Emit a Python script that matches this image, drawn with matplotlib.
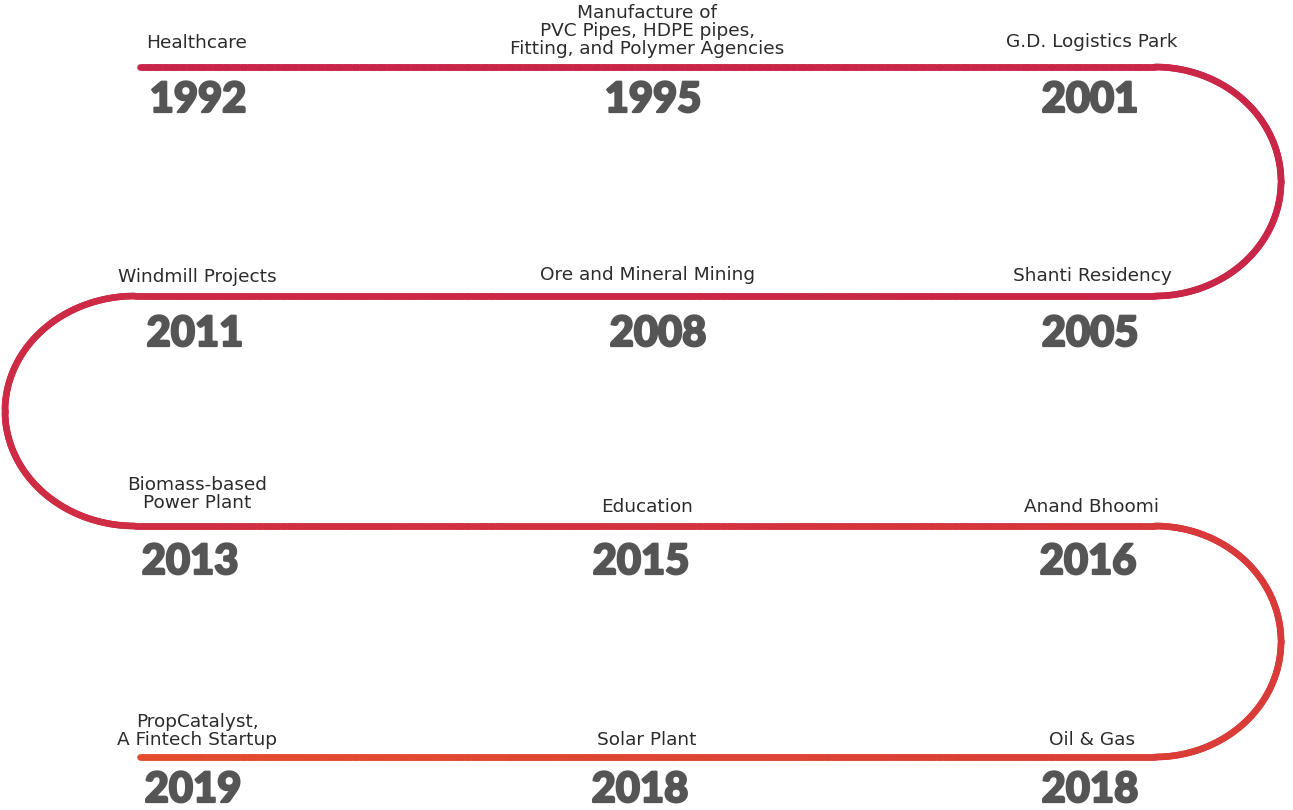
import numpy as np
import matplotlib
matplotlib.use('Agg')
import matplotlib.pyplot as plt
import matplotlib.patheffects as pe
from matplotlib.collections import LineCollection
from matplotlib.colors import LinearSegmentedColormap

# milestones in timeline order (serpentine: row 0 L->R, row 1 R->L, ...)
YEARS = ["1992", "1995", "2001",
         "2005", "2008", "2011",
         "2013", "2015", "2016",
         "2018", "2018", "2019"]
LABELS = ["Healthcare",
          "Manufacture of\nPVC Pipes, HDPE pipes,\nFitting, and Polymer Agencies",
          "G.D. Logistics Park",
          "Shanti Residency",
          "Ore and Mineral Mining",
          "Windmill Projects",
          "Biomass-based\nPower Plant",
          "Education",
          "Anand Bhoomi",
          "Oil & Gas",
          "Solar Plant",
          "PropCatalyst,\nA Fintech Startup"]

# layout (pixels)
W, H = 1293, 810
COL_X = [197, 647, 1092]
ROW_Y = [67, 296, 526, 757]
YEAR_Y = [100, 334, 562, 790]
LABEL_Y = [43, 31, 42, 276, 275, 277, 494, 507, 507, 740, 740, 731]
YEAR_DX = [1, 6, -2, -2, 11, -2, -7, -6, -4, -2, -7, -4]
X_LEFT, X_RIGHT, X_LARC = 140, 1155, 135


def half_ellipse(cx, y0, y1, rx, side, n=200):
    cy = (y0 + y1) / 2
    ry = (y1 - y0) / 2
    th = np.linspace(-np.pi / 2, np.pi / 2, n)
    return cx + side * rx * np.cos(th), cy + ry * np.sin(th)


def build_path():
    xs, ys = [], []
    ends = [(X_LEFT, X_RIGHT), (X_RIGHT, X_LARC), (X_LARC, X_RIGHT), (X_RIGHT, X_LEFT)]
    for r, (a, b) in enumerate(ends):
        seg_x = np.linspace(a, b, 300)
        xs.append(seg_x)
        ys.append(np.full_like(seg_x, ROW_Y[r]))
        if r < 3:
            if r % 2 == 0:
                ex, ey = half_ellipse(X_RIGHT, ROW_Y[r], ROW_Y[r + 1], 126, 1)
            else:
                ex, ey = half_ellipse(X_LARC, ROW_Y[r], ROW_Y[r + 1], 130, -1)
            xs.append(ex)
            ys.append(ey)
    return np.concatenate(xs), np.concatenate(ys)


fig = plt.figure(figsize=(W / 100, H / 100), dpi=100)
ax = fig.add_axes([0, 0, 1, 1])
ax.set_xlim(0, W)
ax.set_ylim(H, 0)
ax.axis('off')

px, py = build_path()
pts = np.column_stack([px, py]).reshape(-1, 1, 2)
segs = np.concatenate([pts[:-1], pts[1:]], axis=1)
d = np.hypot(np.diff(px), np.diff(py))
t = np.concatenate([[0], np.cumsum(d)])[:-1] / d.sum()
cmap = LinearSegmentedColormap.from_list(
    'tl', [(0, '#C9244A'), (0.45, '#CB2946'), (0.7, '#D6353C'), (1, '#E34D2E')])
lc = LineCollection(segs, colors=cmap(t), linewidths=4.8, capstyle='round')
ax.add_collection(lc)

label_font = ['DejaVu Sans']
year_font = ['Lato', 'DejaVu Sans']
thick = [pe.withStroke(linewidth=1.6, foreground='#555555')]
for i, (yr, lab) in enumerate(zip(YEARS, LABELS)):
    r, k = divmod(i, 3)
    c = k if r % 2 == 0 else 2 - k
    ax.text(COL_X[c], LABEL_Y[i], lab, ha='center', va='center', fontsize=13.3,
            family=label_font, color='#2b2b2b', linespacing=1.0)
    ax.text(COL_X[c] + YEAR_DX[i], YEAR_Y[r], yr, ha='center', va='center',
            fontsize=30, family=year_font, fontweight='black', color='#555555',
            path_effects=thick)

fig.savefig('out.png', dpi=100)
